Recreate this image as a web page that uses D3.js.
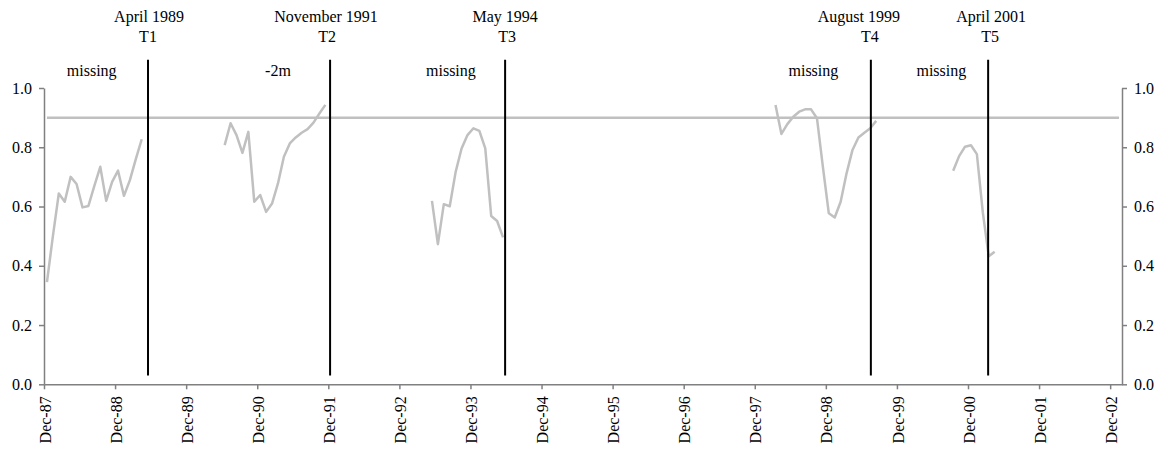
<!DOCTYPE html>
<html>
<head>
<meta charset="utf-8">
<script src="https://cdn.jsdelivr.net/npm/d3@7"></script>
<style>
  html, body { margin: 0; padding: 0; background: #fff; }
  svg { display: block; }
  text { font-family: "Liberation Serif", "Times New Roman", serif; fill: #000; }
</style>
</head>
<body>
<svg id="chart" width="1165" height="452"></svg>
<script>
// ---------- DATA (month index 0 = Dec-87) ----------
const xTickMonths = [0, 12, 24, 36, 48, 60, 72, 84, 96, 108, 120, 132, 144, 156, 168, 180];
const xTickLabels = ["Dec-87","Dec-88","Dec-89","Dec-90","Dec-91","Dec-92","Dec-93","Dec-94",
                     "Dec-95","Dec-96","Dec-97","Dec-98","Dec-99","Dec-00","Dec-01","Dec-02"];
const yTicks = [0.0, 0.2, 0.4, 0.6, 0.8, 1.0];

// segment start months and monthly values
const seg1Start = 0;
const seg1Values = [0.345, 0.50, 0.644, 0.616, 0.700, 0.676, 0.597, 0.602, 0.67, 0.734, 0.619, 0.683, 0.721, 0.636, 0.689, 0.76, 0.827];
const seg2Start = 30;
const seg2Values = [0.807, 0.881, 0.841, 0.781, 0.852, 0.616, 0.639, 0.582, 0.610, 0.678, 0.768, 0.813, 0.833, 0.849, 0.861, 0.883, 0.914, 0.943];
const seg3Start = 65;
const seg3Values = [0.619, 0.473, 0.608, 0.601, 0.717, 0.796, 0.841, 0.864, 0.855, 0.796, 0.568, 0.551, 0.496];
const seg4Start = 123;
const seg4Values = [0.943, 0.845, 0.878, 0.903, 0.920, 0.928, 0.928, 0.898, 0.734, 0.577, 0.563, 0.616, 0.712, 0.791, 0.833, 0.849, 0.864, 0.889];
const seg5Start = 153;
const seg5Values = [0.721, 0.770, 0.802, 0.807, 0.777, 0.58, 0.432, 0.447];

const refValue = 0.9;
const refMonths = [0, 181];

// transition markers
const tNames  = ["T1", "T2", "T3", "T4", "T5"];
const tDates  = ["April 1989", "November 1991", "May 1994", "August 1999", "April 2001"];
const tMonths = [17.56, 48.3, 77.85, 139.6, 159.4];
const tRange  = [0.03, 1.095];

// annotations
const noteTexts  = ["missing", "-2m", "missing", "missing", "missing"];
const noteMonths = [8.05, 39.5, 68.7, 129.9, 151.5];
const noteValue  = 1.04;

// ---------- LAYOUT ----------
const svg = d3.select("#chart");
const x = d3.scaleLinear().domain([0, 182]).range([44, 1122]);
const y = d3.scaleLinear().domain([0, 1]).range([384.3, 88]);
const mx = m => x(m + 0.5);   // monthly points sit mid-month

const axisColor = "#808080";
const seriesColor = "#c0c0c0";
const fontSize = 16;

// reference line
svg.append("line")
  .attr("x1", mx(refMonths[0])).attr("x2", mx(refMonths[1]))
  .attr("y1", y(refValue)).attr("y2", y(refValue))
  .attr("stroke", seriesColor).attr("stroke-width", 2.5);

// series segments
const line = d3.line().x(d => mx(d[0])).y(d => y(d[1]));
const segments = [
  [seg1Start, seg1Values], [seg2Start, seg2Values], [seg3Start, seg3Values],
  [seg4Start, seg4Values], [seg5Start, seg5Values]
];
segments.forEach(([start, vals]) => {
  svg.append("path")
    .datum(vals.map((v, i) => [start + i, v]))
    .attr("d", line)
    .attr("fill", "none")
    .attr("stroke", seriesColor)
    .attr("stroke-width", 2.5)
    .attr("stroke-linejoin", "round");
});

// axes
const xAxis = svg.append("g")
  .attr("transform", `translate(0,${y(0)})`)
  .call(d3.axisBottom(x).tickValues(xTickMonths)
        .tickFormat((d, i) => xTickLabels[i]).tickSize(5).tickSizeOuter(0));
xAxis.selectAll("text")
  .attr("transform", "rotate(-90)")
  .attr("text-anchor", "end")
  .attr("x", -12).attr("y", 0).attr("dy", "0.38em")
  .style("font-size", fontSize + "px");

const yFmt = d3.format(".1f");
const yL = svg.append("g").attr("transform", `translate(${x(0)},0)`)
  .call(d3.axisLeft(y).tickValues(yTicks).tickFormat(yFmt).tickSize(5).tickPadding(7).tickSizeOuter(0));
const yR = svg.append("g").attr("transform", `translate(${x(182)},0)`)
  .call(d3.axisRight(y).tickValues(yTicks).tickFormat(yFmt).tickSize(5).tickPadding(7).tickSizeOuter(0));

[xAxis, yL, yR].forEach(g => {
  g.select(".domain").attr("stroke", axisColor).attr("stroke-width", 1.5);
  g.selectAll(".tick line").attr("stroke", axisColor).attr("stroke-width", 1.5);
  g.selectAll("text").style("font-family", "'Liberation Serif', serif")
    .style("font-size", fontSize + "px").attr("fill", "#000");
});

// transition lines
const dateOffsets = [1, -4, 0, -12, 3];
const nameOffsets = [0, -3, 2, -1, 2];
tMonths.forEach((m, i) => {
  svg.append("line")
    .attr("x1", x(m)).attr("x2", x(m))
    .attr("y1", y(tRange[0])).attr("y2", y(tRange[1]))
    .attr("stroke", "#000").attr("stroke-width", 2);
  svg.append("text")
    .attr("x", x(m) + dateOffsets[i]).attr("y", 22)
    .attr("text-anchor", "middle").style("font-size", fontSize + "px")
    .text(tDates[i]);
  svg.append("text")
    .attr("x", x(m) + nameOffsets[i]).attr("y", 42)
    .attr("text-anchor", "middle").style("font-size", fontSize + "px")
    .text(tNames[i]);
});

// annotations
noteTexts.forEach((t, i) => {
  svg.append("text")
    .attr("x", x(noteMonths[i])).attr("y", y(noteValue))
    .attr("text-anchor", "middle").style("font-size", fontSize + "px")
    .text(t);
});
</script>
</body>
</html>
